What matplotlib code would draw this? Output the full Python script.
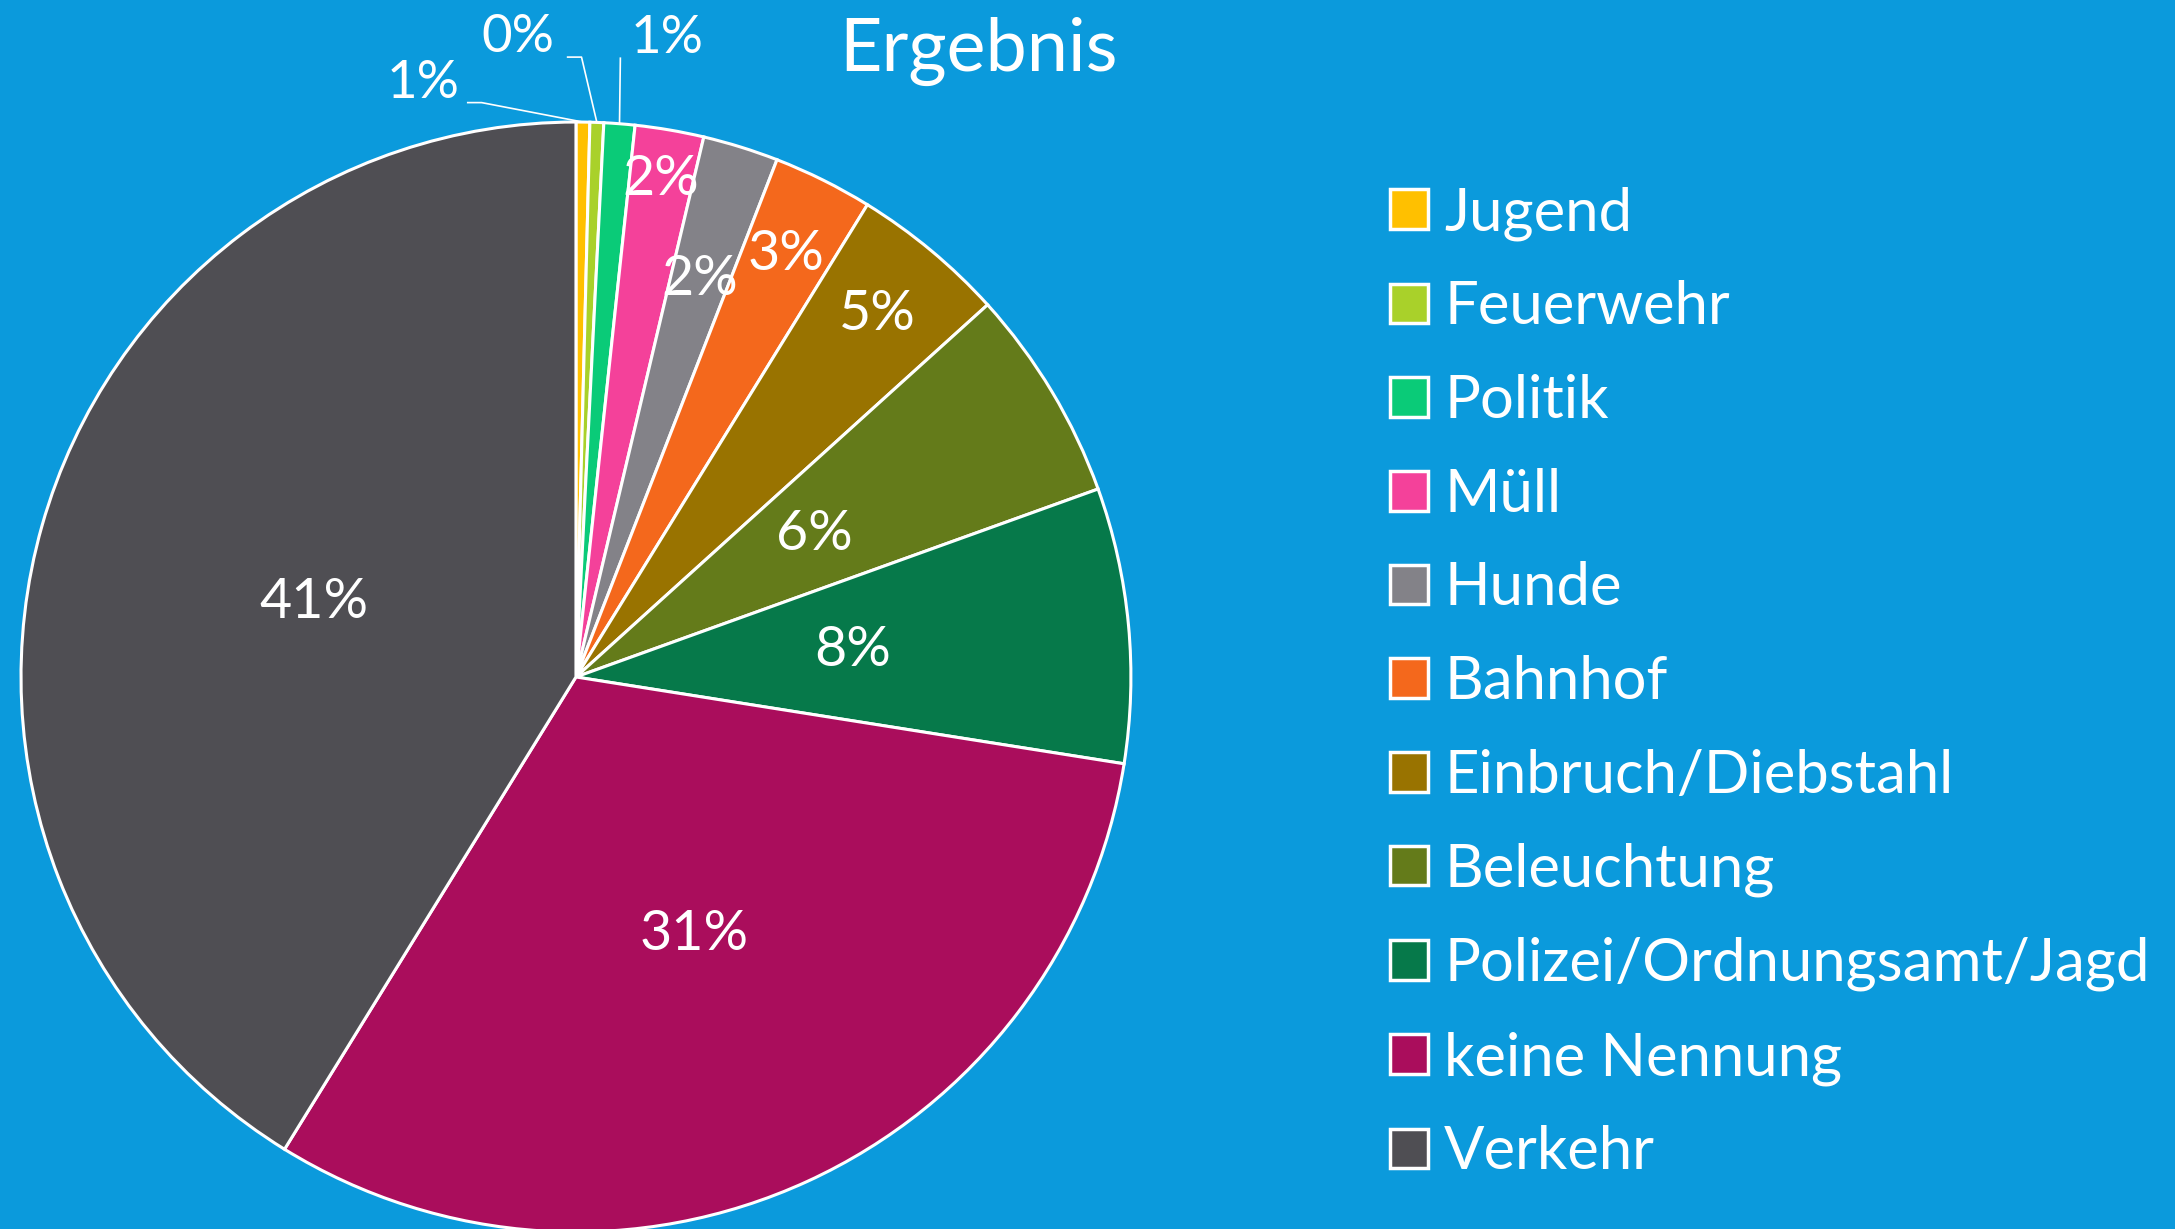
import matplotlib.pyplot as plt
import numpy as np

plt.rcParams['font.family'] = ['Lato', 'DejaVu Sans']

categories = ['Jugend', 'Feuerwehr', 'Politik', 'Müll', 'Hunde', 'Bahnhof',
              'Einbruch/Diebstahl', 'Beleuchtung', 'Polizei/Ordnungsamt/Jagd',
              'keine Nennung', 'Verkehr']
values = [0.4, 0.4, 0.9, 2.0, 2.2, 2.9, 4.5, 6.2, 8.0, 31.3, 41.2]
pct_labels = ['1%', '0%', '1%', '2%', '2%', '3%', '5%', '6%', '8%', '31%', '41%']
colors = ['#FFC000', '#A9D12A', '#0ACB78', '#F4419A', '#838288', '#F4681C',
          '#997300', '#647B1A', '#06794A', '#AA0D5C', '#4F4E53']

bg = '#0B9ADC'
fig = plt.figure(figsize=(21.75, 12.29), dpi=100, facecolor=bg)
ax = fig.add_axes([0.00966, -0.00244, 0.5103, 0.9032])
ax.set_facecolor(bg)

wedges, _ = ax.pie(values, colors=colors, startangle=90, counterclock=False,
                   radius=1, wedgeprops=dict(edgecolor='white', linewidth=2.2))
for w in wedges:
    w.set_clip_on(False)
ax.set_xlim(-1, 1)
ax.set_ylim(-1, 1)
ax.set_aspect('equal')
ax.axis('off')

# label distance from center (inside slices), None -> outside with leader
inner_r = [None, None, None, 0.91, 0.75, 0.85, 0.85, 0.5, 0.5, 0.51, 0.49]
outer_pos = {0: (-0.275, 1.07), 1: (-0.105, 1.152), 2: (0.165, 1.15)}

for i, w in enumerate(wedges):
    mid = np.deg2rad((w.theta1 + w.theta2) / 2)
    if inner_r[i] is not None:
        r = inner_r[i]
        ax.text(r * np.cos(mid), r * np.sin(mid), pct_labels[i], color='white',
                fontsize=40, ha='center', va='center')
    else:
        tx, ty = outer_pos[i]
        ex, ey = np.cos(mid), np.sin(mid)
        ax.text(tx, ty, pct_labels[i], color='white', fontsize=38, ha='center', va='center')
        if i == 0:
            ax.plot([tx + 0.08, tx + 0.105, ex], [ty - 0.035, ty - 0.035, ey], color='white', lw=1.2, clip_on=False)
        elif i == 1:
            ax.plot([tx + 0.09, tx + 0.115, ex], [ty - 0.035, ty - 0.035, ey], color='white', lw=1.2, clip_on=False)
        else:
            ax.plot([tx - 0.085, ex], [ty - 0.035, ey], color='white', lw=1.2, clip_on=False)

fig.text(0.45, 0.958, 'Ergebnis', color='white', fontsize=53, ha='center', va='center')

leg = fig.legend(wedges, categories, loc='upper left', bbox_to_anchor=(0.628, 0.868),
                 frameon=False, fontsize=43, labelcolor='white',
                 handlelength=0.64, handleheight=0.64, handletextpad=0.27,
                 labelspacing=0.665, borderaxespad=0)
for h in leg.legend_handles:
    h.set_edgecolor('white')
    h.set_linewidth(2.5)

fig.savefig('out.png', dpi=100, facecolor=bg)
